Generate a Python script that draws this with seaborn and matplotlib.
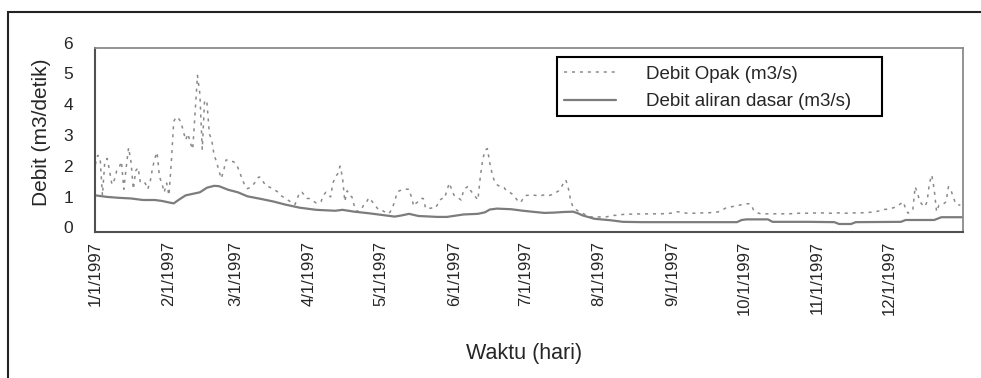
import numpy as np
import pandas as pd
import matplotlib
matplotlib.use("Agg")
import matplotlib.pyplot as plt
import matplotlib.transforms as mtransforms
from matplotlib.patches import Rectangle
from matplotlib import font_manager
import seaborn as sns

# ---------------- data (day offset from 1997-01-01, value m3/s) ----------------
opak_days = [0, 1, 2, 3, 4, 5, 6, 7, 8, 9, 10, 11, 12, 13, 14, 15, 16, 17, 18, 19,
             20, 21, 22, 23, 24, 25, 26, 27, 28, 29, 30,
             31, 32, 33, 34, 35, 36, 37, 38, 39, 40, 41, 42, 43, 44, 45, 46, 47, 48, 49,
             50, 51, 52, 53, 54, 55, 56, 57, 58,
             59, 60, 61, 62, 63, 64, 65, 66, 67, 68, 69, 70, 71, 72, 73, 74, 75, 76, 77,
             78, 79, 80, 81, 82, 83, 84, 85, 86, 87, 88, 89,
             90, 91, 92, 93, 94, 95, 96, 97, 98, 99, 100, 101, 102, 103, 104, 105, 106,
             107, 108, 109, 110, 111, 112, 113, 114, 115, 116, 117, 118, 119,
             120, 121, 122, 123, 124, 125, 126, 127, 128, 129, 130, 131, 132, 133, 134,
             135, 136, 137, 138, 139, 140, 141, 142, 143, 144, 145, 146, 147, 148, 149, 150,
             151, 152, 153, 154, 155, 156, 157, 158, 159, 160, 161, 162, 163, 164, 165,
             166, 167, 168, 169, 170, 171, 172, 173, 174, 175, 176, 177, 178, 179, 180,
             181, 182, 183, 184, 185, 186, 187, 188, 189, 190, 191, 192, 193, 194, 195,
             196, 197, 198, 199, 200, 201, 202, 203, 204, 205, 206, 207, 208, 209, 210, 211,
             212, 213, 214, 215, 216, 217, 218, 219, 220, 221, 222, 224, 226, 228, 230,
             232, 234, 236, 238, 240, 242, 244, 245, 247, 249, 251, 253, 255, 257, 259,
             261, 263, 265, 267, 269, 271, 273, 275, 276, 277, 278, 280, 282, 284, 286,
             288, 290, 292, 294, 296, 298, 300, 302, 304, 306, 308, 310, 312, 314, 316,
             318, 320, 322, 324, 326, 328, 330, 332, 334, 336, 337, 338, 340, 341, 342,
             343, 344, 345, 346, 347, 348, 349, 350, 351, 352, 353, 354, 355, 356, 357,
             358, 359, 360, 361, 362, 363, 364]
opak_vals = [2.2, 2.5, 2.45, 1.2, 2.3, 2.4, 2.0, 1.55, 1.7, 2.0, 2.1, 2.3, 1.4, 2.1, 2.75,
             2.3, 1.4, 2.0, 2.1, 1.6, 1.6, 1.6, 1.4, 1.6, 2.05, 2.4, 2.6, 1.8, 1.6, 1.3, 1.6,
             1.2, 2.3, 3.6, 3.75, 3.7, 3.6, 3.3, 3.0, 3.2, 2.9, 2.7, 3.9, 5.1, 4.5, 2.7, 4.3,
             4.2, 3.2, 3.0, 2.5, 2.3, 2.0, 1.75, 2.0, 2.35, 2.35, 2.3, 2.3,
             2.25, 2.1, 1.9, 1.7, 1.5, 1.42, 1.45, 1.5, 1.6, 1.75, 1.8, 1.75, 1.6, 1.5,
             1.48, 1.44, 1.4, 1.35, 1.3, 1.2, 1.15, 1.1, 1.05, 1.0, 0.95, 0.9, 1.1, 1.3,
             1.3, 1.2, 1.1,
             1.1, 1.05, 1.0, 0.95, 0.95, 1.0, 1.2, 1.3, 1.2, 1.15, 1.6, 1.8, 1.9, 2.15,
             1.8, 1.0, 1.35, 1.2, 1.15, 0.85, 0.7, 0.67, 0.75, 0.9, 0.95, 1.12, 1.05, 0.95,
             0.85, 0.75,
             0.75, 0.7, 0.65, 0.6, 0.65, 0.8, 1.0, 1.3, 1.35, 1.38, 1.4, 1.4, 1.4, 1.15,
             0.85, 0.95, 1.0, 1.1, 1.1, 0.78, 0.8, 0.78, 0.8, 0.78, 0.9, 1.05, 1.1, 1.1,
             1.38, 1.6, 1.38,
             1.2, 1.15, 1.1, 1.05, 1.38, 1.45, 1.5, 1.35, 1.25, 1.15, 1.05, 1.8, 2.35,
             2.67, 2.72, 2.25, 1.9, 1.65, 1.55, 1.5, 1.45, 1.45, 1.35, 1.3, 1.27, 1.2,
             1.1, 1.0, 0.97, 1.1,
             1.2, 1.2, 1.22, 1.22, 1.2, 1.2, 1.18, 1.2, 1.22, 1.2, 1.2, 1.22, 1.25, 1.3,
             1.35, 1.45, 1.6, 1.7, 1.45, 1.05, 0.82, 0.75, 0.7, 0.67, 0.62, 0.58, 0.52,
             0.5, 0.5, 0.5, 0.5,
             0.5, 0.5, 0.5, 0.5, 0.52, 0.53, 0.55, 0.55, 0.55, 0.57, 0.58, 0.59, 0.59,
             0.6, 0.59, 0.6, 0.6, 0.6, 0.6, 0.61, 0.62, 0.64, 0.67, 0.64, 0.62, 0.62,
             0.62, 0.63, 0.63, 0.64, 0.65, 0.68, 0.78, 0.82, 0.85, 0.88, 0.92, 0.93, 0.9,
             0.72, 0.65, 0.6, 0.6, 0.6, 0.6, 0.6, 0.6, 0.6, 0.61, 0.62, 0.62, 0.62, 0.63,
             0.62, 0.63, 0.62, 0.62, 0.63, 0.63, 0.62, 0.63, 0.63, 0.63, 0.64, 0.65, 0.66,
             0.7, 0.74, 0.76, 0.8, 0.83, 0.88, 0.99, 0.76, 0.62, 0.68, 0.72, 1.48, 1.27,
             0.99, 0.9, 0.83, 0.99, 1.6, 1.86, 1.4, 0.67, 0.88, 0.9, 0.93, 0.99, 1.48,
             1.38, 1.15, 0.93, 0.9, 0.88]

base_days = [0, 5, 10, 15, 20, 25, 28, 31, 33, 35, 38, 41, 44, 47, 50, 52, 56, 60, 64,
             70, 75, 80, 86, 93, 101, 104, 109, 115, 120, 126, 129, 132, 136, 144, 148,
             155, 161, 164, 166, 169, 175, 180, 185, 189, 193, 197, 201, 203, 205, 210,
             217, 222, 230, 250, 270, 272, 274, 283, 285, 300, 311, 313, 318, 320, 339,
             341, 353, 356, 365]
base_vals = [1.2, 1.15, 1.12, 1.1, 1.05, 1.05, 1.02, 0.97, 0.94, 1.05, 1.2, 1.25, 1.3,
             1.45, 1.51, 1.5, 1.38, 1.3, 1.17, 1.08, 1.0, 0.9, 0.8, 0.73, 0.7, 0.73, 0.67,
             0.62, 0.57, 0.51, 0.55, 0.6, 0.53, 0.5, 0.5, 0.58, 0.6, 0.65, 0.74, 0.77,
             0.75, 0.7, 0.66, 0.63, 0.64, 0.66, 0.67, 0.62, 0.55, 0.44, 0.39, 0.34, 0.33,
             0.33, 0.33, 0.4, 0.42, 0.42, 0.34, 0.34, 0.33, 0.27, 0.27, 0.33, 0.34, 0.4,
             0.4, 0.49, 0.49]

series_names = ["Debit Opak (m3/s)", "Debit aliran dasar (m3/s)"]
month_labels = ["1/1/1997", "2/1/1997", "3/1/1997", "4/1/1997", "5/1/1997", "6/1/1997",
                "7/1/1997", "8/1/1997", "9/1/1997", "10/1/1997", "11/1/1997", "12/1/1997"]
y_ticks = [0, 1, 2, 3, 4, 5, 6]

start = pd.Timestamp("1997-01-01")
df_opak = pd.DataFrame({"date": start + pd.to_timedelta(opak_days, unit="D"),
                        "value": opak_vals})
df_base = pd.DataFrame({"date": start + pd.to_timedelta(base_days, unit="D"),
                        "value": base_vals})

# ---------------- figure ----------------
sns.set_style("white")
plt.rcParams["font.family"] = ["Liberation Sans", "DejaVu Sans"]
installed = {f.name for f in font_manager.fontManager.ttflist}
narrow = "Liberation Sans Narrow" if "Liberation Sans Narrow" in installed else "Liberation Sans"

W, H = 981, 378
fig = plt.figure(figsize=(W / 100, H / 100), dpi=100)
ax_l, ax_r, ax_t, ax_b = 95.3, 962.7, 47.7, 232.3
ax = fig.add_axes([ax_l / W, 1 - ax_b / H, (ax_r - ax_l) / W, (ax_b - ax_t) / H])

sns.lineplot(data=df_opak, x="date", y="value", ax=ax, color="#8a8a8a",
             linewidth=1.1, label=series_names[0], legend=False)
ax.lines[-1].set_dashes((2.0, 3.2))
sns.lineplot(data=df_base, x="date", y="value", ax=ax, color="#7c7c7c",
             linewidth=1.6, label=series_names[1], legend=False)

ax.set_xlim(start, pd.Timestamp("1998-01-01"))
ax.set_ylim(0, 6)
month_starts = pd.date_range("1997-01-01", periods=12, freq="MS")
ax.set_xticks(month_starts)
ax.set_xticklabels(month_labels, rotation=90, fontsize=12, family=[narrow, "DejaVu Sans"])
ax.set_yticks(y_ticks)
ax.set_yticklabels([str(v) for v in y_ticks], fontsize=12.5)
ax.tick_params(axis="x", direction="out", length=4, width=1, color="#555555", pad=2)
ax.tick_params(axis="y", direction="out", length=4, width=1, color="#555555", pad=12)

offset = mtransforms.ScaledTranslation(0, 5 / 100, fig.dpi_scale_trans)
for lab in ax.get_yticklabels():
    lab.set_transform(lab.get_transform() + offset)

for side in ["left", "bottom"]:
    ax.spines[side].set_color("#505050")
    ax.spines[side].set_linewidth(1.5)
for side in ["top", "right"]:
    ax.spines[side].set_color("#8a8a8a")
    ax.spines[side].set_linewidth(1.3)
    ax.spines[side].set_visible(True)

ax.set_ylabel("Debit (m3/detik)", fontsize=15)
ax.set_xlabel("Waktu (hari)", fontsize=15.5)
ax.yaxis.set_label_coords(-0.051, 0.54)
ax.xaxis.set_label_coords(0.494, -0.60)

# legend
leg = ax.legend(loc="upper left", bbox_to_anchor=(558 / W, 1 - 60 / H),
                bbox_transform=fig.transFigure, frameon=False, fontsize=13.5,
                handlelength=2.8, handletextpad=1.6, labelspacing=0.55,
                borderaxespad=0, borderpad=0.3)
fig.patches.append(Rectangle((556.7 / W, 1 - 116 / H), (881.7 - 556.7) / W,
                             (116 - 57.3) / H, transform=fig.transFigure,
                             fill=False, edgecolor="black", linewidth=1.5, zorder=5))

# outer chart border
fig.patches.append(Rectangle((7.5 / W, -0.1), 1.2, (H - 12) / H + 0.1,
                             transform=fig.transFigure, fill=False,
                             edgecolor="#222222", linewidth=1.5, zorder=5))

fig.savefig("out.png", dpi=100)
